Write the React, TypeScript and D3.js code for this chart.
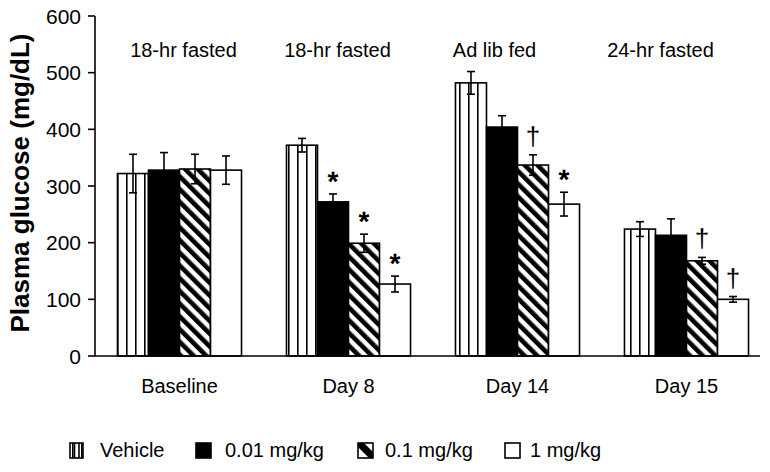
import React from "react";
import * as d3 from "d3";

const groups = ["Baseline", "Day 8", "Day 14", "Day 15"];
const conditions = ["18-hr fasted", "18-hr fasted", "Ad lib fed", "24-hr fasted"];
const seriesNames = ["Vehicle", "0.01 mg/kg", "0.1 mg/kg", "1 mg/kg"];

const vehicle = [322, 372, 482, 224];
const dose001 = [328, 272, 404, 213];
const dose01 = [330, 199, 337, 168];
const dose1 = [328, 127, 268, 100];

const vehicleErr = [34, 12, 20, 13];
const dose001Err = [31, 14, 20, 29];
const dose01Err = [26, 16, 18, 6];
const dose1Err = [25, 14, 21, 5];

const vehicleSig = ["", "", "", ""];
const dose001Sig = ["", "*", "", ""];
const dose01Sig = ["", "*", "†", "†"];
const dose1Sig = ["", "*", "*", "†"];

const yTicks = [0, 100, 200, 300, 400, 500, 600];
const yTitle = "Plasma glucose (mg/dL)";

const values = [vehicle, dose001, dose01, dose1];
const errs = [vehicleErr, dose001Err, dose01Err, dose1Err];
const sigs = [vehicleSig, dose001Sig, dose01Sig, dose1Sig];

// layout (style) constants
const W = 770;
const H = 472;
const FONT = "'Liberation Sans', Arial, Helvetica, sans-serif";
const fills = ["url(#vert)", "#000", "url(#diag)", "#fff"];
const condOffsets = [4, -11, -23, -26];
const legendSwatchX = [70, 196, 358, 505];
const legendTextX = [100, 225, 385, 530];

export default function App() {
  const x0 = d3
    .scaleBand<string>()
    .domain(groups)
    .range([95, 771])
    .paddingInner(0.266)
    .paddingOuter(0.133);
  const x1 = d3
    .scaleBand<string>()
    .domain(seriesNames)
    .range([0, x0.bandwidth()]);
  const y = d3.scaleLinear().domain([0, 600]).range([356, 16]);

  const bars: any[] = [];
  groups.forEach((g, gi) => {
    seriesNames.forEach((s, si) => {
      bars.push({
        g,
        gi,
        s,
        si,
        v: values[si][gi],
        e: errs[si][gi],
        sig: sigs[si][gi],
      });
    });
  });

  return (
    <svg
      width={W}
      height={H}
      style={{ position: "absolute", left: 0, top: 0, background: "#fff" }}
      fontFamily={FONT}
    >
      <defs>
        <pattern id="vert" patternUnits="userSpaceOnUse" width={9} height={9}>
          <rect width={9} height={9} fill="#fff" />
          <rect x={0} y={0} width={1.6} height={9} fill="#000" />
        </pattern>
        <pattern
          id="diag"
          patternUnits="userSpaceOnUse"
          width={9}
          height={9}
          patternTransform="rotate(-45)"
        >
          <rect width={9} height={9} fill="#fff" />
          <rect x={0} y={0} width={4.6} height={9} fill="#000" />
        </pattern>
      </defs>

      {/* bars */}
      {bars.map((b, i) => {
        const bx = (x0(b.g) as number) + (x1(b.s) as number);
        const bw = x1.bandwidth();
        return (
          <rect
            key={"b" + i}
            x={bx}
            y={y(b.v)}
            width={bw}
            height={y(0) - y(b.v)}
            fill={fills[b.si]}
            stroke="#000"
            strokeWidth={1.6}
          />
        );
      })}

      {/* error bars */}
      {bars.map((b, i) => {
        const cx = (x0(b.g) as number) + (x1(b.s) as number) + x1.bandwidth() / 2;
        const top = y(b.v + b.e);
        const bot = y(b.v - b.e);
        return (
          <g key={"e" + i} stroke="#000" strokeWidth={1.6}>
            <line x1={cx} x2={cx} y1={top} y2={bot} />
            <line x1={cx - 4} x2={cx + 4} y1={top} y2={top} />
            <line x1={cx - 4} x2={cx + 4} y1={bot} y2={bot} />
          </g>
        );
      })}

      {/* significance markers */}
      {bars
        .filter((b) => b.sig)
        .map((b, i) => {
          const cx = (x0(b.g) as number) + (x1(b.s) as number) + x1.bandwidth() / 2;
          const top = y(b.v + b.e);
          const isStar = b.sig === "*";
          return (
            <text
              key={"s" + i}
              x={cx}
              y={isStar ? top - 3 : top - 10}
              textAnchor="middle"
              fontSize={isStar ? 28 : 26}
              fontWeight={isStar ? "bold" : "normal"}
              fill="#000"
              style={{ textRendering: "geometricPrecision" }}
            >
              {b.sig}
            </text>
          );
        })}

      {/* axes */}
      <line x1={95} x2={95} y1={y(600)} y2={y(0)} stroke="#000" strokeWidth={1.6} />
      <line x1={95} x2={760} y1={y(0)} y2={y(0)} stroke="#000" strokeWidth={1.6} />
      {yTicks.map((t) => (
        <g key={"t" + t}>
          <line x1={88} x2={95} y1={y(t)} y2={y(t)} stroke="#000" strokeWidth={1.6} />
          <text
            x={81}
            y={y(t)}
            dy="0.36em"
            textAnchor="end"
            fontSize={21}
            fill="#000"
          >
            {t}
          </text>
        </g>
      ))}
      <text
        transform={`translate(29, 183) rotate(-90)`}
        textAnchor="middle"
        fontSize={26}
        fontWeight="bold"
        fill="#000"
      >
        {yTitle}
      </text>

      {/* group labels */}
      {groups.map((g) => (
        <text
          key={"g" + g}
          x={(x0(g) as number) + x0.bandwidth() / 2}
          y={393}
          textAnchor="middle"
          fontSize={20}
          fill="#000"
        >
          {g}
        </text>
      ))}

      {/* condition labels */}
      {conditions.map((c, i) => (
        <text
          key={"c" + i}
          x={(x0(groups[i]) as number) + x0.bandwidth() / 2 + condOffsets[i]}
          y={57}
          textAnchor="middle"
          fontSize={20}
          fill="#000"
        >
          {c}
        </text>
      ))}

      {/* legend */}
      {seriesNames.map((s, i) => (
        <g key={"l" + i}>
          <rect
            x={legendSwatchX[i]}
            y={443}
            width={i === 0 ? 13 : 15}
            height={15}
            fill={i === 2 ? "#fff" : fills[i]}
            stroke="#000"
            strokeWidth={1.6}
          />
          {i === 0 && (
            <>
              <line x1={legendSwatchX[i] + 4.5} x2={legendSwatchX[i] + 4.5} y1={443} y2={458} stroke="#000" strokeWidth={1.6} />
              <line x1={legendSwatchX[i] + 9} x2={legendSwatchX[i] + 9} y1={443} y2={458} stroke="#000" strokeWidth={1.6} />
            </>
          )}
          {i === 2 && (
            <polygon
              points={`${legendSwatchX[i]},443 ${legendSwatchX[i] + 6},443 ${legendSwatchX[i] + 15},452 ${legendSwatchX[i] + 15},458 ${legendSwatchX[i] + 11},458 ${legendSwatchX[i]},447`}
              fill="#000"
            />
          )}
          <text x={legendTextX[i]} y={457} fontSize={20} fill="#000">
            {s}
          </text>
        </g>
      ))}
    </svg>
  );
}
